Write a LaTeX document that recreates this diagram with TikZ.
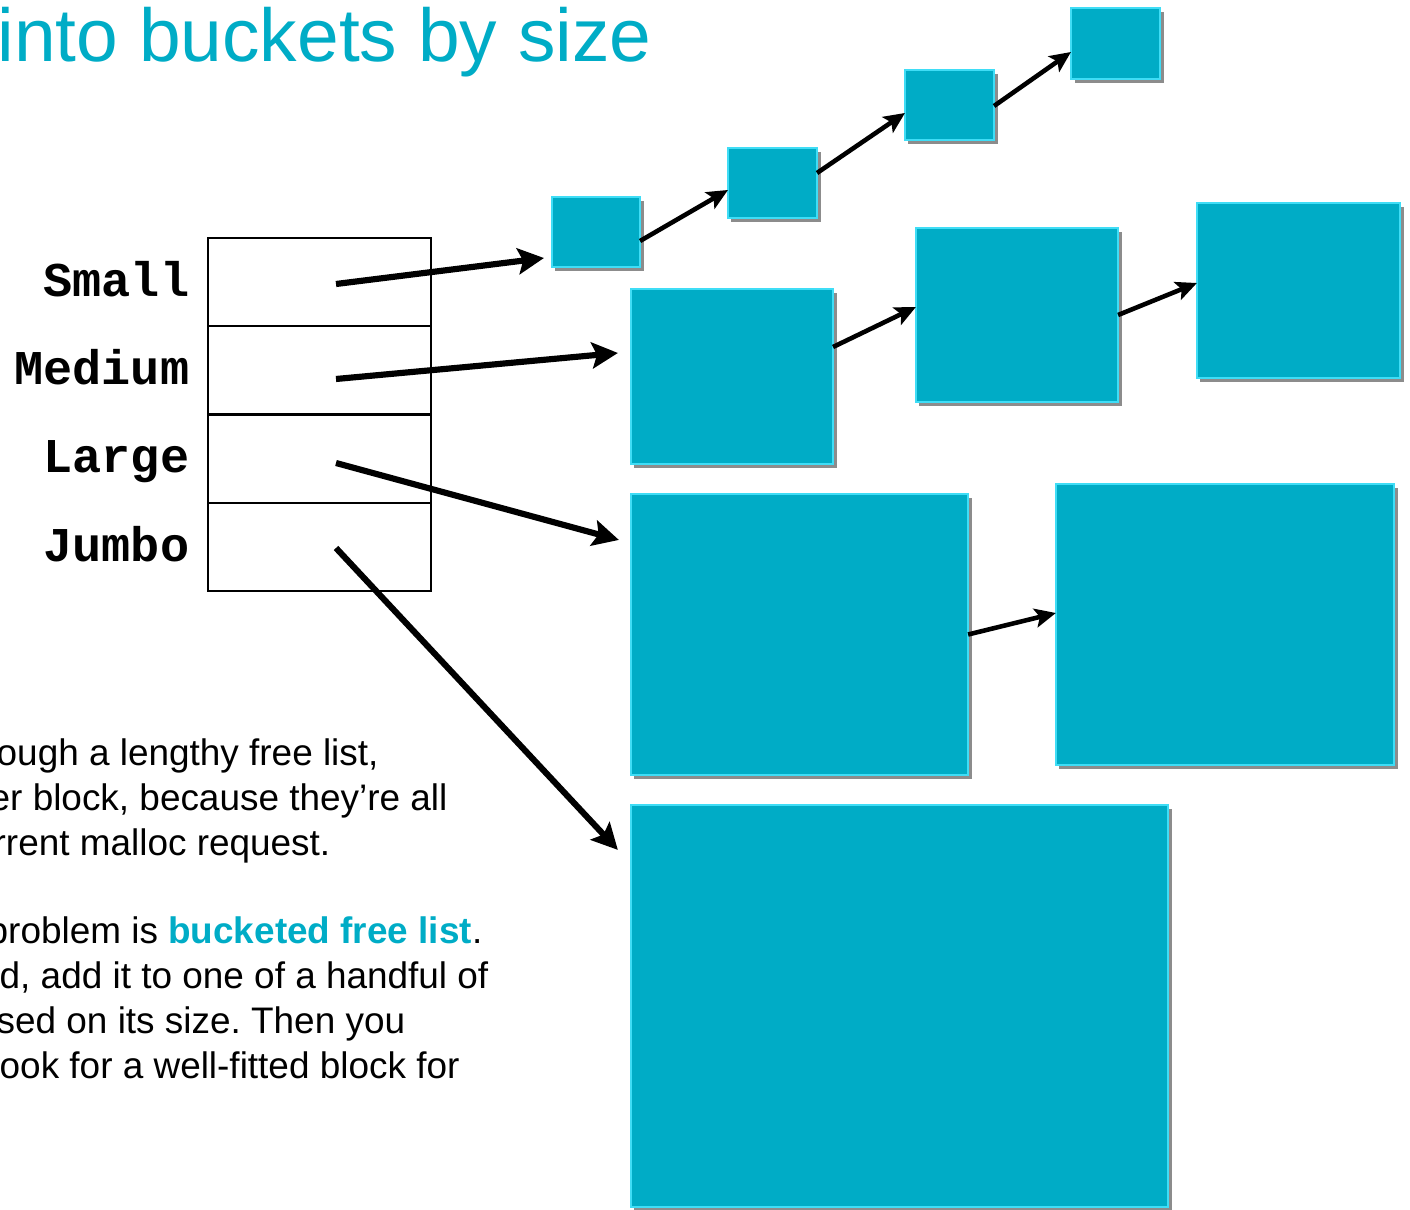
\documentclass[tikz,border=0pt]{standalone}
\usepackage{fontspec}
\setmainfont{Liberation Sans}
\setmonofont{Liberation Mono}
\usetikzlibrary{positioning,arrows.meta,shadows}
\frenchspacing

\definecolor{bucketcyan}{HTML}{00ACC6}
\definecolor{bucketedge}{HTML}{3FDDF6}

\tikzset{
  block/.style={draw=bucketedge, line width=0.6pt, fill=bucketcyan, outer sep=0pt, inner sep=0pt,
    drop shadow={shadow xshift=0.035cm, shadow yshift=-0.04cm, fill=black, opacity=0.45}},
  slot/.style={draw, line width=0.6pt, minimum width=2.23cm, minimum height=0.8825cm, outer sep=0pt},
  sizename/.style={font=\fontsize{13.8}{16}\selectfont\ttfamily\bfseries, inner sep=0pt,
    text height=0.28cm, text depth=0pt},
  head/.style={-{Stealth[length=0.26cm,width=0.26cm,inset=0.05cm]}, line width=1.75pt},
  link/.style={-{Stealth[length=0.21cm,width=0.19cm,inset=0.045cm]}, line width=1.3pt},
  body/.style={anchor=base west, inner sep=0pt, font=\fontsize{10.5}{12.8}\selectfont},
}

\begin{document}
\begin{tikzpicture}[x=0.01cm, y=-0.01cm]
    \useasboundingbox (0,0) rectangle (1410,1210);
    \clip (0,0) rectangle (1410,1210);

    % heading
    \node[anchor=base west, inner sep=0pt, text=bucketcyan, font=\fontsize{21.3}{24}\selectfont]
        (title) at (-3,62) {into buckets by size};

    % the bucket table
    \node[slot] (small) at (319.5,282.1) {};
    \node[slot, below=0cm of small] (medium) {};
    \node[slot, below=0cm of medium] (large) {};
    \node[slot, below=0cm of large] (jumbo) {};
    \node[sizename, left=0.18cm of small] (small-name) {Small};
    \node[sizename, left=0.18cm of medium] (medium-name) {Medium};
    \node[sizename, left=0.18cm of large] (large-name) {Large};
    \node[sizename, left=0.18cm of jumbo] (jumbo-name) {Jumbo};
    \coordinate (small-ptr) at (336,284);
    \coordinate (medium-ptr) at (336,379);
    \coordinate (large-ptr) at (336,463);
    \coordinate (jumbo-ptr) at (336,548);

    % free blocks, one row per bucket
    \node[block, minimum width=0.88cm, minimum height=0.70cm] (s1) at (596,232) {};
    \node[block, minimum width=0.89cm, minimum height=0.70cm] (s2) at (772.5,183) {};
    \node[block, minimum width=0.89cm, minimum height=0.70cm] (s3) at (949.5,105) {};
    \node[block, minimum width=0.89cm, minimum height=0.71cm] (s4) at (1115.5,43.5) {};
    \node[block, minimum width=2.02cm, minimum height=1.75cm] (m1) at (732,376.5) {};
    \node[block, minimum width=2.02cm, minimum height=1.74cm] (m2) at (1017,315) {};
    \node[block, minimum width=2.03cm, minimum height=1.75cm] (m3) at (1298.5,290.5) {};
    \node[block, minimum width=3.37cm, minimum height=2.81cm] (l1) at (799.5,634.5) {};
    \node[block, minimum width=3.38cm, minimum height=2.81cm] (l2) at (1225,624.5) {};
    \node[block, minimum width=5.37cm, minimum height=4.02cm] (j1) at (899.5,1006) {};

    % bucket heads
    \draw[head] (small-ptr) -- ([xshift=-0.08cm,yshift=0.09cm]s1.south west);
    \draw[head] (medium-ptr) -- ([xshift=-0.13cm,yshift=-0.64cm]m1.north west);
    \draw[head] (large-ptr) -- ([xshift=-0.12cm,yshift=-0.46cm]l1.north west);
    \draw[head] (jumbo-ptr) -- ([xshift=-0.13cm,yshift=-0.45cm]j1.north west);

    % next pointers
    \draw[link] ([yshift=-0.09cm]s1.east) -- ([yshift=-0.07cm]s2.west);
    \draw[link] ([yshift=0.10cm]s2.east) -- ([yshift=-0.08cm]s3.west);
    \draw[link] ([yshift=-0.01cm]s3.east) -- ([yshift=-0.085cm]s4.west);
    \draw[link] ([yshift=0.295cm]m1.east) -- ([yshift=0.08cm]m2.west);
    \draw[link] (m2.east) -- ([yshift=0.075cm]m3.west);
    \draw[link] (l1.east) -- ([yshift=0.115cm]l2.west);

    % notes
    \node[body] (note1) at (-4,765) {ough a lengthy free list,};
    \node[body] (note2) at (-11,810) {er block, because they’re all};
    \node[body] (note3) at (-7,855) {rrent malloc request.};
    \node[body] (note4) at (-13,943) {problem is {\bfseries\color{bucketcyan}bucketed free list}.};
    \node[body] (note5) at (-1,988) {d, add it to one of a handful of};
    \node[body] (note6) at (-4,1033) {sed on its size. Then you};
    \node[body] (note7) at (-1,1078) {ook for a well-fitted block for};
\end{tikzpicture}
\end{document}
